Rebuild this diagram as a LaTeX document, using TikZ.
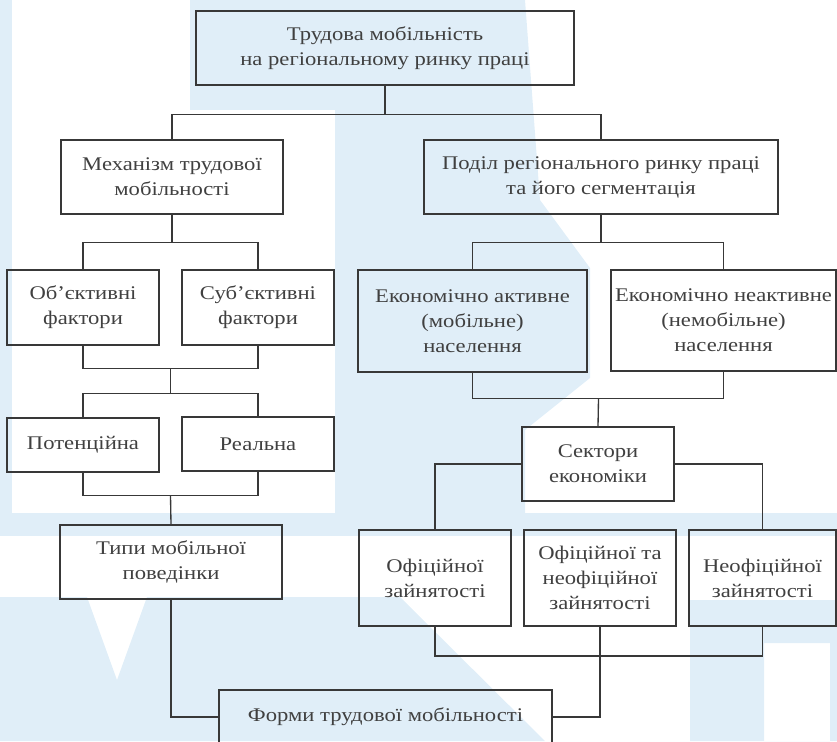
\documentclass[tikz,border=0pt]{standalone}
\usepackage{fontspec}
\setmainfont{Liberation Serif}[FakeStretch=1.17]
\definecolor{wm}{RGB}{224,238,248}
\begin{document}
\begin{tikzpicture}[x=0.75pt,y=-0.75pt,
  ink/.style={draw=black!78, line width=1pt},
  box/.style={ink, inner sep=0pt, align=center, text=black!75,
    font=\fontsize{14.5}{18.75}\selectfont},
  link/.style={ink}]
\useasboundingbox (0,0) rectangle (837,741);
\clip (0,0) rectangle (837,741);

% faint background emblem
\fill[wm] (0,0) rectangle (12,513);
\fill[wm] (0,513) rectangle (837,536);
\fill[wm] (190,0) -- (525,0) -- (540,200) -- (590,268) -- (590,378)
  -- (525,430) -- (525,513) -- (335,513) -- (335,110) -- (190,110) -- cycle;
\fill[wm] (0,597) -- (87,597) -- (117,680) -- (147,597) -- (400,597)
  -- (545,741) -- (0,741) -- cycle;
\fill[wm, even odd rule] (690,600) rectangle (837,741)
  (764,643) rectangle (830,741);

% boxes (centre, width, height in px)
\node[box, minimum width=283.5pt, minimum height=55.5pt] (top) at (385,48)
  {Трудова мобільність\\на регіональному ринку праці};
\node[box, minimum width=166.5pt, minimum height=55.5pt] (mech) at (172,177)
  {Механізм трудової\\мобільності};
\node[box, minimum width=265.5pt, minimum height=55.5pt] (podil) at (601,177)
  {Поділ регіонального ринку праці\\та його сегментація};
\node[box, minimum width=114pt, minimum height=56.25pt] (ob) at (83,307.5)
  {Об’єктивні\\фактори};
\node[box, minimum width=114pt, minimum height=56.25pt] (sub) at (258,307.5)
  {Суб’єктивні\\фактори};
\node[box, minimum width=114pt, minimum height=40.5pt] (pot) at (83,445)
  {Потенційна};
\node[box, minimum width=114pt, minimum height=40.5pt] (real) at (258,444)
  {Реальна};
\node[box, minimum width=166.5pt, minimum height=55.5pt] (typy) at (171,562)
  {Типи мобільної\\поведінки};
\node[box, minimum width=249.75pt, minimum height=40.5pt] (forms) at (385.5,717)
  {Форми трудової мобільності};
\node[box, minimum width=171.75pt, minimum height=76.5pt] (akt) at (472.5,321)
  {Економічно активне\\(мобільне)\\населення};
\node[box, minimum width=168.75pt, minimum height=75.75pt] (neakt) at (723.5,320.5)
  {Економічно неактивне\\(немобільне)\\населення};
\node[box, minimum width=114pt, minimum height=55.5pt] (sekt) at (598,464)
  {Сектори\\економіки};
\node[box, minimum width=114pt, minimum height=72pt] (of) at (435,578)
  {Офіційної\\зайнятості};
\node[box, minimum width=114pt, minimum height=72pt] (ofn) at (600,578)
  {Офіційної та\\неофіційної\\зайнятості};
\node[box, minimum width=110.25pt, minimum height=72pt] (neof) at (762.5,578)
  {Неофіційної\\зайнятості};

% left branch
\draw[link] (top.south) -- ++(0,29) coordinate (j1);
\draw[link] (j1) -| (mech.north);
\draw[link] (j1) -| (podil.north);
\draw[link] (mech.south) -- ++(0,28) coordinate (j2);
\draw[link] (j2) -| (ob.north);
\draw[link] (j2) -| (sub.north);
\draw[link] (ob.south) |- ++(87.5,23) coordinate (j3) -| (sub.south);
\draw[link] (j3) -- ++(0,25) coordinate (j4);
\draw[link] (j4) -| (pot.north);
\draw[link] (j4) -| (real.north);
\draw[link] (pot.south) |- ++(87.5,23) coordinate (j5) -| (real.south);
\draw[link] (j5) -- (typy.north);
\draw[link] (typy.south) |- (forms.west);

% right branch
\draw[link] (podil.south) -- ++(0,28) coordinate (j6);
\draw[link] (j6) -| (akt.north);
\draw[link] (j6) -| (neakt.north);
\draw[link] (akt.south) |- ++(126,26) coordinate (j7) -| (neakt.south);
\draw[link] (j7) -- (sekt.north);
\draw[link] (sekt.west) -| (of.north);
\draw[link] (sekt.east) -| (neof.north);
\draw[link] (of.south) |- (neof.south |- 0,656) -- (neof.south);
\draw[link] (ofn.south) |- (forms.east);
\end{tikzpicture}
\end{document}
